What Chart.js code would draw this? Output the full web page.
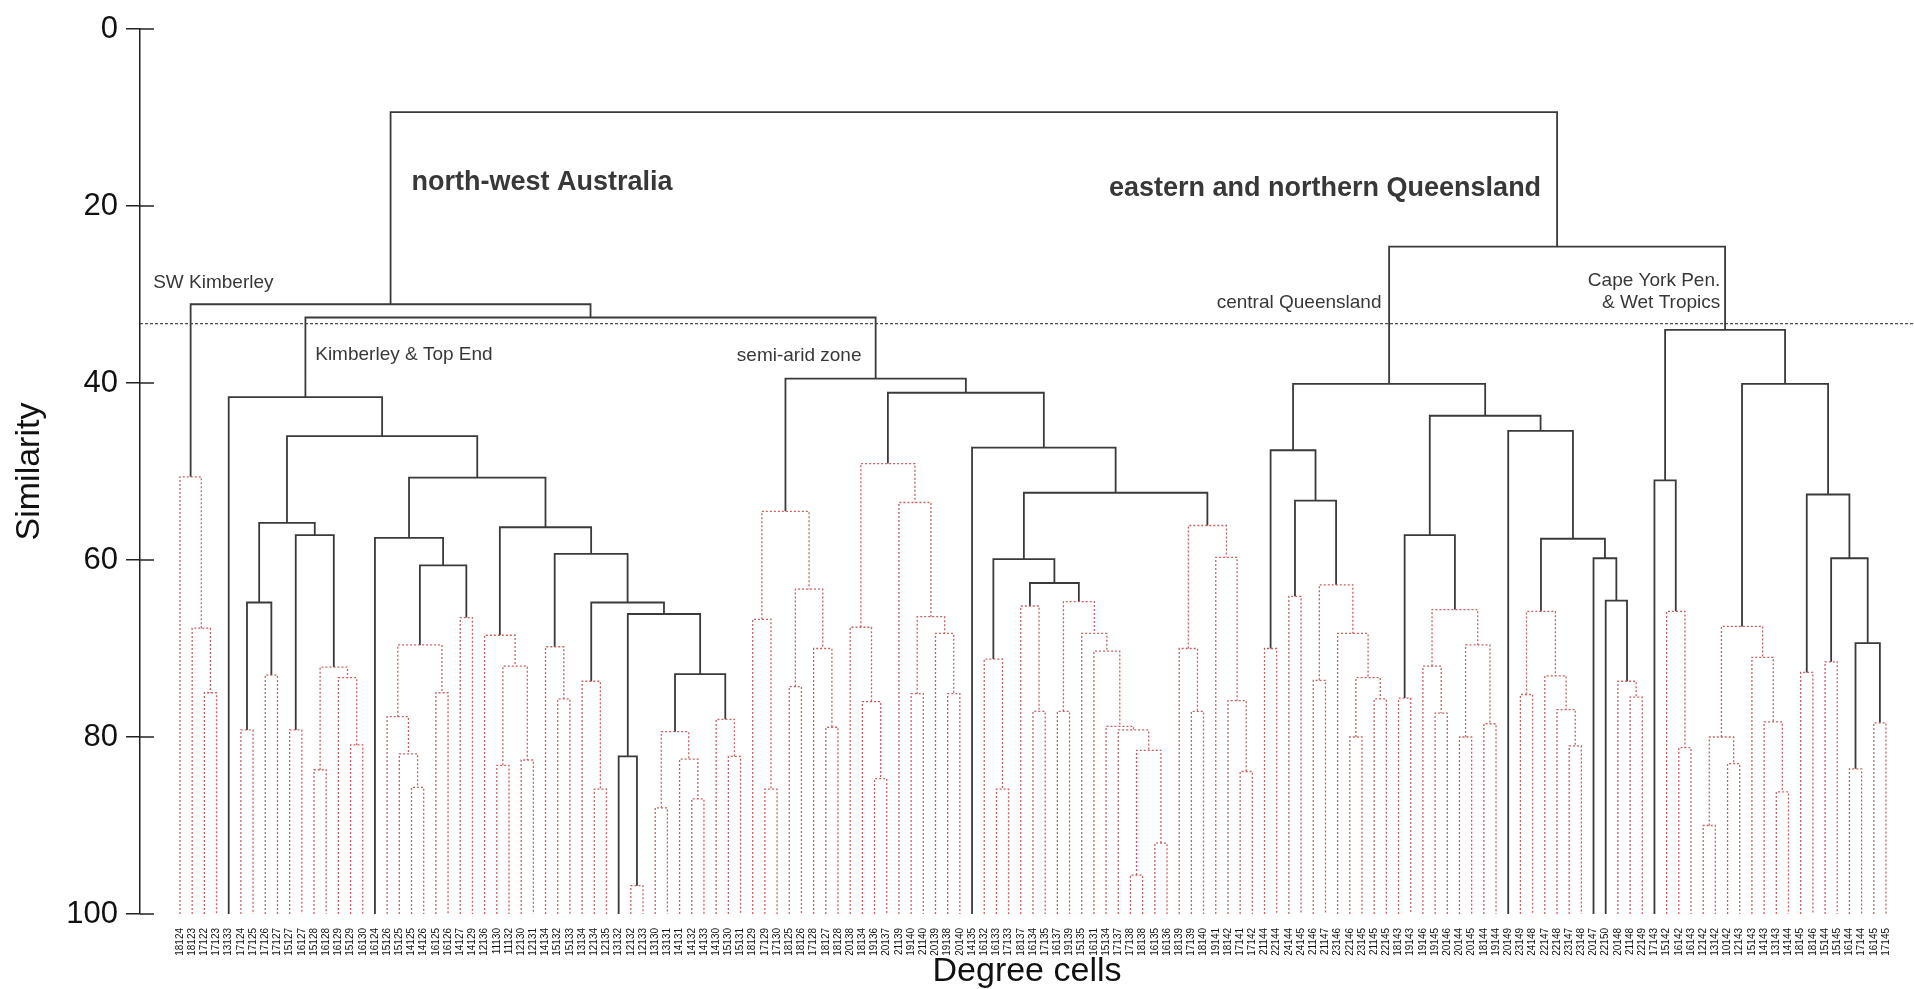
<!DOCTYPE html>
<html>
<head>
<meta charset="utf-8">
<title>Degree cells - similarity dendrogram</title>
<script src="https://cdn.jsdelivr.net/npm/chart.js@4.4.1/dist/chart.umd.min.js"></script>
<style>
    html, body { margin: 0; padding: 0; background: #fff; }
    #wrap { width: 1914px; height: 989px; }
</style>
</head>
<body>
<div id="wrap"><canvas id="dendro"></canvas></div>
<script>
(function () {

    // leaves, left to right
    var leafLabels = [
        "18124", "18123", "17122", "17123", "13133", "17124", "17125", "17126", "17127", "15127",
        "16127", "15128", "16128", "16129", "15129", "16130", "16124", "15126", "15125", "14125",
        "14126", "16125", "16126", "14127", "14129", "12136", "11130", "11132", "12130", "12131",
        "14134", "15132", "15133", "13134", "12134", "12135", "13132", "12132", "12133", "13130",
        "13131", "14131", "14132", "14133", "14130", "15130", "15131", "18129", "17129", "17130",
        "18125", "18126", "17128", "18127", "18128", "20138", "18134", "19136", "20137", "21139",
        "19140", "21140", "20139", "19138", "20140", "14135", "16132", "16133", "17133", "18137",
        "16134", "17135", "16137", "19139", "15135", "16131", "15134", "17137", "17138", "18138",
        "16135", "16136", "18139", "17139", "18140", "19141", "18142", "17141", "17142", "21144",
        "22144", "24144", "24145", "21146", "21147", "23146", "22146", "23145", "21145", "22145",
        "18143", "19143", "19146", "19145", "20146", "20144", "20145", "18144", "19144", "20149",
        "23149", "24148", "22147", "22148", "23147", "23148", "20147", "22150", "20148", "21148",
        "22149", "17143", "15142", "16142", "16143", "12142", "13142", "10142", "12143", "15143",
        "14143", "13143", "14144", "18145", "18146", "15144", "15145", "16144", "17144", "16145",
        "17145"
    ];

    // [id, left, right, similarity, significant]; numbers are leaf positions (1-based)
    var swKimberley = [
        ["sw3", 3, 4, 75.0, 0],
        ["sw2", 2, "sw3", 67.7, 0],
        ["sw", 1, "sw2", 50.6, 0]
    ];

    var kimberleyTopEnd = [
        ["k67", 6, 7, 79.2, 0],
        ["k89", 8, 9, 73.0, 0],
        ["k6_9", "k67", "k89", 64.8, 1],
        ["k1011", 10, 11, 79.2, 0],
        ["k1213", 12, 13, 83.7, 0],
        ["k1516", 15, 16, 80.9, 0],
        ["k14_16", 14, "k1516", 73.3, 0],
        ["k12_16", "k1213", "k14_16", 72.1, 0],
        ["k10_16", "k1011", "k12_16", 57.2, 1],
        ["k6_16", "k6_9", "k10_16", 55.8, 1],
        ["k2021", 20, 21, 85.7, 0],
        ["k19_21", 19, "k2021", 81.9, 0],
        ["k18_21", 18, "k19_21", 77.7, 0],
        ["k2223", 22, 23, 75.0, 0],
        ["k18_23", "k18_21", "k2223", 69.6, 0],
        ["k2425", 24, 25, 66.5, 0],
        ["k18_25", "k18_23", "k2425", 60.6, 1],
        ["k17_25", 17, "k18_25", 57.5, 1],
        ["k2728", 27, 28, 83.2, 0],
        ["k2930", 29, 30, 82.6, 0],
        ["k27_30", "k2728", "k2930", 72.0, 0],
        ["k26_30", 26, "k27_30", 68.5, 0],
        ["k3233", 32, 33, 75.7, 0],
        ["k31_33", 31, "k3233", 69.8, 0],
        ["k3536", 35, 36, 85.9, 0],
        ["k34_36", 34, "k3536", 73.7, 0],
        ["k3839", 38, 39, 96.8, 0],
        ["k37_39", 37, "k3839", 82.2, 1],
        ["k4041", 40, 41, 88.0, 0],
        ["k4344", 43, 44, 87.0, 0],
        ["k42_44", 42, "k4344", 82.5, 0],
        ["k40_44", "k4041", "k42_44", 79.4, 0],
        ["k4647", 46, 47, 82.2, 0],
        ["k45_47", 45, "k4647", 78.0, 0],
        ["k40_47", "k40_44", "k45_47", 72.9, 1],
        ["k37_47", "k37_39", "k40_47", 66.1, 1],
        ["k34_47", "k34_36", "k37_47", 64.8, 1],
        ["k31_47", "k31_33", "k34_47", 59.3, 1],
        ["k26_47", "k26_30", "k31_47", 56.3, 1],
        ["k17_47", "k17_25", "k26_47", 50.7, 1],
        ["k6_47", "k6_16", "k17_47", 46.0, 1],
        ["kte", 5, "k6_47", 41.6, 1]
    ];

    var semiArid = [
        ["s4950", 49, 50, 85.9, 0],
        ["s48_50", 48, "s4950", 66.7, 0],
        ["s5152", 51, 52, 74.3, 0],
        ["s5455", 54, 55, 78.9, 0],
        ["s53_55", 53, "s5455", 70.0, 0],
        ["s51_55", "s5152", "s53_55", 63.3, 0],
        ["s48_55", "s48_50", "s51_55", 54.5, 0],
        ["s5859", 58, 59, 84.7, 0],
        ["s57_59", 57, "s5859", 76.0, 0],
        ["s56_59", 56, "s57_59", 67.6, 0],
        ["s6162", 61, 62, 75.1, 0],
        ["s6465", 64, 65, 75.1, 0],
        ["s63_65", 63, "s6465", 68.3, 0],
        ["s61_65", "s6162", "s63_65", 66.4, 0],
        ["s60_65", 60, "s61_65", 53.5, 0],
        ["s56_65", "s56_59", "s60_65", 49.1, 0],
        ["s6869", 68, 69, 85.9, 0],
        ["s67_69", 67, "s6869", 71.2, 0],
        ["s7172", 71, 72, 77.1, 0],
        ["s70_72", 70, "s7172", 65.2, 0],
        ["s7374", 73, 74, 77.1, 0],
        ["s7980", 79, 80, 95.6, 0],
        ["s8182", 81, 82, 92.0, 0],
        ["s79_82", "s7980", "s8182", 81.5, 0],
        ["s78_82", 78, "s79_82", 79.2, 0],
        ["s77_82", 77, "s78_82", 78.8, 0],
        ["s76_82", 76, "s77_82", 70.3, 0],
        ["s75_82", 75, "s76_82", 68.3, 0],
        ["s73_82", "s7374", "s75_82", 64.7, 0],
        ["s70_82", "s70_72", "s73_82", 62.6, 1],
        ["s67_82", "s67_69", "s70_82", 59.9, 1],
        ["s8485", 84, 85, 77.1, 0],
        ["s83_85", 83, "s8485", 70.0, 0],
        ["s8889", 88, 89, 83.9, 0],
        ["s87_89", 87, "s8889", 75.9, 0],
        ["s86_89", 86, "s87_89", 59.7, 0],
        ["s83_89", "s83_85", "s86_89", 56.1, 0],
        ["s67_89", "s67_82", "s83_89", 52.4, 1],
        ["s66_89", 66, "s67_89", 47.3, 1],
        ["s56_89", "s56_65", "s66_89", 41.1, 1],
        ["semi", "s48_55", "s56_89", 39.5, 1]
    ];

    var centralQld = [
        ["c9091", 90, 91, 70.0, 0],
        ["c9293", 92, 93, 64.1, 0],
        ["c9495", 94, 95, 73.6, 0],
        ["c9798", 97, 98, 80.0, 0],
        ["c99100", 99, 100, 75.7, 0],
        ["c97_100", "c9798", "c99100", 73.3, 0],
        ["c96_100", 96, "c97_100", 68.3, 0],
        ["c94_100", "c9495", "c96_100", 62.8, 0],
        ["c92_100", "c9293", "c94_100", 53.3, 1],
        ["c90_100", "c9091", "c92_100", 47.6, 1],
        ["c101102", 101, 102, 75.6, 0],
        ["c104105", 104, 105, 77.3, 0],
        ["c103_105", 103, "c104105", 72.0, 0],
        ["c106107", 106, 107, 80.0, 0],
        ["c108109", 108, 109, 78.5, 0],
        ["c106_109", "c106107", "c108109", 69.6, 0],
        ["c103_109", "c103_105", "c106_109", 65.6, 0],
        ["c101_109", "c101102", "c103_109", 57.2, 1],
        ["c111112", 111, 112, 75.2, 0],
        ["c115116", 115, 116, 81.0, 0],
        ["c114_116", 114, "c115116", 76.9, 0],
        ["c113_116", 113, "c114_116", 73.1, 0],
        ["c111_116", "c111112", "c113_116", 65.8, 0],
        ["c120121", 120, 121, 75.5, 0],
        ["c119_121", 119, "c120121", 73.7, 0],
        ["c118_121", 118, "c119_121", 64.6, 1],
        ["c117_121", 117, "c118_121", 59.8, 1],
        ["c111_121", "c111_116", "c117_121", 57.6, 1],
        ["c110_121", 110, "c111_121", 45.4, 1],
        ["c101_121", "c101_109", "c110_121", 43.7, 1],
        ["cen", "c90_100", "c101_121", 40.1, 1]
    ];

    var capeYork = [
        ["y124125", 124, 125, 81.2, 0],
        ["y123_125", 123, "y124125", 65.8, 0],
        ["y122_125", 122, "y123_125", 51.0, 1],
        ["y126127", 126, 127, 90.0, 0],
        ["y128129", 128, 129, 83.0, 0],
        ["y126_129", "y126127", "y128129", 80.0, 0],
        ["y132133", 132, 133, 86.2, 0],
        ["y131_133", 131, "y132133", 78.3, 0],
        ["y130_133", 130, "y131_133", 71.0, 0],
        ["y126_133", "y126_129", "y130_133", 67.5, 0],
        ["y134135", 134, 135, 72.7, 0],
        ["y136137", 136, 137, 71.5, 0],
        ["y138139", 138, 139, 83.6, 0],
        ["y140141", 140, 141, 78.4, 0],
        ["y138_141", "y138139", "y140141", 69.4, 1],
        ["y136_141", "y136137", "y138_141", 59.8, 1],
        ["y134_141", "y134135", "y136_141", 52.6, 1],
        ["y126_141", "y126_133", "y134_141", 40.1, 1],
        ["cape", "y122_125", "y126_141", 34.0, 1]
    ];

    var topLevel = [
        ["nw2", "kte", "semi", 32.6, 1],
        ["nw", "sw", "nw2", 31.1, 1],
        ["east", "cen", "cape", 24.6, 1],
        ["root", "nw", "east", 9.4, 1]
    ];

    var yTicks = [0, 20, 40, 60, 80, 100];
    var cutLevel = 33.3;

    // [text, leaf position, similarity, align, big]
    var regionLabels = [
        ["north-west Australia", 20.0, 17.4, "left", true],
        ["eastern and northern Queensland", 112.7, 18.0, "right", true],
        ["SW Kimberley", -1.2, 28.7, "left", false],
        ["Kimberley & Top End", 12.1, 36.8, "left", false],
        ["semi-arid zone", 46.7, 36.9, "left", false],
        ["central Queensland", 99.6, 30.9, "right", false],
        ["Cape York Pen.", 127.4, 28.5, "right", false],
        ["& Wet Tropics", 127.4, 30.9, "right", false]
    ];

    var FONT = "'Liberation Sans', Arial, sans-serif";
    Chart.defaults.font.family = FONT;

    var merges = swKimberley.concat(kimberleyTopEnd, semiArid, centralQld, capeYork, topLevel);

    var nodes = {};
    function nodeInfo(ref) {
        if (typeof ref === "number") {
            return { x: ref, h: 100 };
        }
        return nodes[ref];
    }

    var datasets = [];
    merges.forEach(function (m) {
        var a = nodeInfo(m[1]);
        var b = nodeInfo(m[2]);
        var h = m[3];
        var solid = m[4] === 1;
        nodes[m[0]] = { x: (a.x + b.x) / 2, h: h };
        datasets.push({
            data: [{ x: a.x, y: a.h }, { x: a.x, y: h }, { x: b.x, y: h }, { x: b.x, y: b.h }],
            showLine: true,
            pointRadius: 0,
            pointHoverRadius: 0,
            borderColor: solid ? "#3a3a3a" : "rgba(196,80,80,0.9)",
            borderWidth: solid ? 1.8 : 1.3,
            borderDash: solid ? [] : [2, 2],
            borderCapStyle: "butt",
            borderJoinStyle: "miter",
            tension: 0
        });
    });

    var xMin = -2.28, xMax = 143.3;

    datasets.push({
        data: [{ x: xMin, y: cutLevel }, { x: xMax, y: cutLevel }],
        showLine: true,
        pointRadius: 0,
        borderColor: "#222",
        borderWidth: 1,
        borderDash: [3, 2]
    });

    var overlay = {
        id: "overlay",
        afterDraw: function (chart) {
            var ctx = chart.ctx;
            var xs = chart.scales.x, ys = chart.scales.y;
            ctx.save();
            // tick stubs on the inner side of the axis
            ctx.strokeStyle = "#222";
            ctx.lineWidth = 1.5;
            yTicks.forEach(function (t) {
                var py = ys.getPixelForValue(t);
                ctx.beginPath();
                ctx.moveTo(xs.left, py);
                ctx.lineTo(xs.left + 14, py);
                ctx.stroke();
            });
            ctx.fillStyle = "#383838";
            ctx.textBaseline = "middle";
            regionLabels.forEach(function (r) {
                ctx.font = (r[4] ? "bold 27px " : "19px ") + FONT;
                ctx.textAlign = r[3];
                ctx.fillText(r[0], xs.getPixelForValue(r[1]), ys.getPixelForValue(r[2]));
            });
            ctx.restore();
        }
    };

    new Chart(document.getElementById("dendro"), {
        type: "scatter",
        data: { datasets: datasets },
        options: {
            responsive: true,
            maintainAspectRatio: false,
            animation: false,
            events: [],
            layout: { padding: { top: 29, right: 0, bottom: 0, left: 0 } },
            plugins: {
                legend: { display: false },
                tooltip: { enabled: false }
            },
            scales: {
                x: {
                    type: "linear",
                    min: xMin,
                    max: xMax,
                    afterBuildTicks: function (scale) {
                        scale.ticks = leafLabels.map(function (_, i) { return { value: i + 1 }; });
                    },
                    afterFit: function (scale) { scale.height = 75; },
                    grid: { display: false },
                    border: { display: false },
                    ticks: {
                        autoSkip: false,
                        minRotation: 90,
                        maxRotation: 90,
                        padding: 6,
                        color: "#111",
                        font: { size: 10 },
                        callback: function (v) { return leafLabels[v - 1] || ""; }
                    },
                    title: {
                        display: true,
                        text: "Degree cells",
                        color: "#111",
                        font: { size: 34, lineHeight: 1 },
                        padding: 0
                    }
                },
                y: {
                    reverse: true,
                    min: 0,
                    max: 100,
                    afterBuildTicks: function (scale) {
                        scale.ticks = yTicks.map(function (v) { return { value: v }; });
                    },
                    afterFit: function (scale) { scale.width = 140; },
                    grid: {
                        display: true,
                        drawOnChartArea: false,
                        drawTicks: true,
                        tickLength: 14,
                        color: "#222",
                        lineWidth: 1.5
                    },
                    border: { display: true, color: "#222", width: 1.5 },
                    ticks: { padding: 8, color: "#111", font: { size: 31 } },
                    title: {
                        display: true,
                        text: "Similarity",
                        color: "#111",
                        font: { size: 34, lineHeight: 1 },
                        padding: { top: 13, bottom: 0 }
                    }
                }
            }
        },
        plugins: [overlay]
    });
})();
</script>
</body>
</html>
